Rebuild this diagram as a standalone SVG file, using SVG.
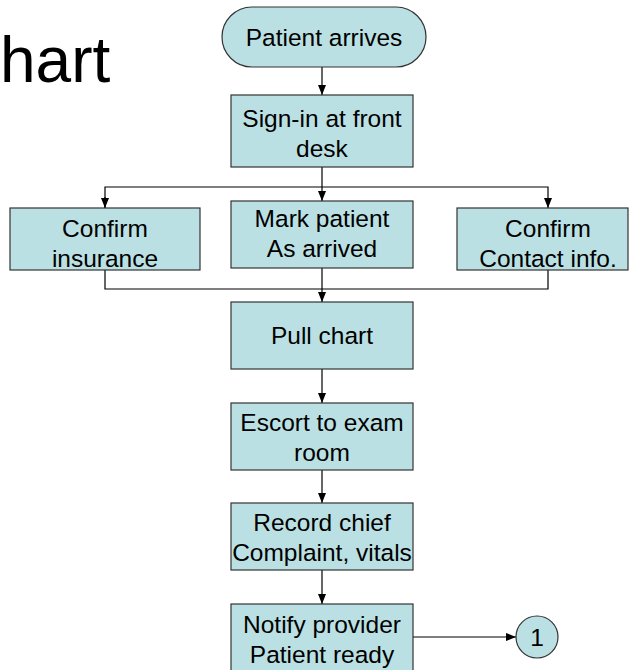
<svg xmlns="http://www.w3.org/2000/svg" width="629" height="670" viewBox="0 0 629 670">
<style>
.n{fill:#BBE0E3;stroke:#333;stroke-width:1.2}
.t{font-family:"Liberation Sans",Arial,sans-serif;font-size:24.5px;fill:#000;text-anchor:middle}
.c{fill:none;stroke:#000;stroke-width:1.2}
</style>
<defs>
<marker id="ah" markerUnits="userSpaceOnUse" markerWidth="10" markerHeight="10" viewBox="0 0 10 10" refX="10" refY="5" orient="auto">
<path d="M0,1 L10,5 L0,9 Z" fill="#000"/>
</marker>
</defs>
<rect width="629" height="670" fill="#fff"/>
<text x="0" y="82" font-family="Liberation Sans,Arial,sans-serif" font-size="64">hart</text>
<g id="connectors">
<line class="c" x1="322" y1="67" x2="322" y2="95" marker-end="url(#ah)"/>
<line class="c" x1="322" y1="167" x2="322" y2="201" marker-end="url(#ah)"/>
<polyline class="c" points="105,208 105,187 548,187 548,208" marker-end="url(#ah)"/>
<polyline class="c" points="105,197 105,208" marker-end="url(#ah)"/>
<polyline class="c" points="105,270 105,289 548,289 548,270"/>
<line class="c" x1="322" y1="268" x2="322" y2="302" marker-end="url(#ah)"/>
<line class="c" x1="322" y1="369" x2="322" y2="403" marker-end="url(#ah)"/>
<line class="c" x1="322" y1="470" x2="322" y2="503" marker-end="url(#ah)"/>
<line class="c" x1="322" y1="570" x2="322" y2="604" marker-end="url(#ah)"/>
<line class="c" x1="413" y1="637" x2="516" y2="637" marker-end="url(#ah)"/>
</g>
<g id="start"><rect class="n" x="222" y="7" width="204" height="60" rx="30"/><text class="t" x="324" y="46">Patient arrives</text></g>
<g id="signin"><rect class="n" x="231" y="95" width="182" height="72"/><text class="t" x="322" y="127">Sign-in at front</text><text class="t" x="322" y="157">desk</text></g>
<g id="insurance"><rect class="n" x="10" y="208" width="190" height="62"/><text class="t" x="105" y="237">Confirm</text><text class="t" x="105" y="267">insurance</text></g>
<g id="mark"><rect class="n" x="231" y="201" width="182" height="67"/><text class="t" x="322" y="227">Mark patient</text><text class="t" x="322" y="257">As arrived</text></g>
<g id="contact"><rect class="n" x="457" y="208" width="171" height="62"/><text class="t" x="548" y="237">Confirm</text><text class="t" x="548" y="267">Contact info.</text></g>
<g id="pull"><rect class="n" x="231" y="302" width="182" height="67"/><text class="t" x="322" y="344">Pull chart</text></g>
<g id="escort"><rect class="n" x="231" y="403" width="182" height="67"/><text class="t" x="322" y="431">Escort to exam</text><text class="t" x="322" y="461">room</text></g>
<g id="record"><rect class="n" x="231" y="503" width="182" height="67"/><text class="t" x="322" y="531">Record chief</text><text class="t" x="322" y="561">Complaint, vitals</text></g>
<g id="notify"><rect class="n" x="231" y="604" width="182" height="72"/><text class="t" x="322" y="633">Notify provider</text><text class="t" x="322" y="663">Patient ready</text></g>
<g id="connector1"><circle class="n" cx="537" cy="637" r="21"/><text class="t" x="537" y="646">1</text></g>
</svg>
